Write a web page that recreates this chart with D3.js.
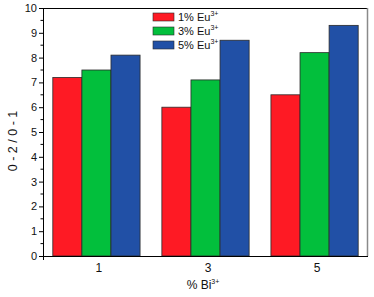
<!DOCTYPE html>
<html>
<head>
<meta charset="utf-8">
<script src="https://cdn.jsdelivr.net/npm/d3@7"></script>
<style>
  body { margin: 0; background: #fff; }
  text { font-family: "Liberation Sans", Arial, sans-serif; }
</style>
</head>
<body>
<div id="chart"></div>
<script>
// data
const groups = ["1", "3", "5"]
const series = ["1% Eu", "3% Eu", "5% Eu"]
const eu1 = [7.2, 6.0, 6.5]
const eu3 = [7.5, 7.1, 8.2]
const eu5 = [8.1, 8.7, 9.3]
const yTicks = [0, 1, 2, 3, 4, 5, 6, 7, 8, 9, 10]
const colors = ["#fe1a24", "#02bf3c", "#2150a6"]

const values = [eu1, eu3, eu5]

const width = 374, height = 297
const margin = { left: 43, right: 6, top: 8, bottom: 41 }
const w = width - margin.left - margin.right
const h = height - margin.top - margin.bottom

const svg = d3.select("#chart")
    .append("svg")
    .attr("width", width)
    .attr("height", height)

const view = svg.append("g")
    .attr("transform", "translate(" + margin.left + "," + margin.top + ")")

// scales
const x = d3.scaleBand()
    .domain(groups)
    .range([0, w])
    .paddingInner(0.2)
    .paddingOuter(0.09)

const xs = d3.scaleBand()
    .domain(series)
    .range([0, x.bandwidth()])

const y = d3.scaleLinear()
    .domain([0, 10])
    .range([h, 0])

// frame: top black, right gray
view.append("line")
    .attr("x1", 0).attr("x2", w)
    .attr("y1", 0.5).attr("y2", 0.5)
    .attr("stroke", "#000")
view.append("line")
    .attr("x1", w - 0.5).attr("x2", w - 0.5)
    .attr("y1", 0).attr("y2", h)
    .attr("stroke", "#8a8a8a")
    .attr("stroke-width", 1.5)

// bars
groups.forEach((g, gi) => {
    series.forEach((s, si) => {
        view.append("rect")
            .attr("x", x(g) + xs(s))
            .attr("y", y(values[si][gi]))
            .attr("width", xs.bandwidth())
            .attr("height", h - y(values[si][gi]))
            .attr("fill", colors[si])
            .attr("stroke", "#2a2a2a")
            .attr("stroke-width", 0.8)
    })
})

// y axis
const yAxis = d3.axisLeft(y)
    .tickValues(yTicks)
    .tickSize(4)
    .tickPadding(2)
const ya = view.append("g").call(yAxis)
ya.select(".domain").attr("d", "M0.5,0V" + (h + 4))
ya.selectAll("text").attr("font-size", 11).attr("font-family", "Liberation Sans, Arial, sans-serif").attr("fill", "#111")

// minor ticks
view.append("g")
    .selectAll("line")
    .data(yTicks.slice(0, -1).map(d => d + 0.5))
    .enter()
    .append("line")
    .attr("x1", -2.5).attr("x2", 0.5)
    .attr("y1", d => y(d)).attr("y2", d => y(d))
    .attr("stroke", "#000")

// x axis
view.append("line")
    .attr("x1", 0).attr("x2", w)
    .attr("y1", h + 0.5).attr("y2", h + 0.5)
    .attr("stroke", "#000")

view.append("g")
    .selectAll("text")
    .data(groups)
    .enter()
    .append("text")
    .attr("x", d => x(d) + x.bandwidth() / 2 + 2.5)
    .attr("y", h + 16)
    .attr("text-anchor", "middle")
    .attr("font-size", 12)
    .attr("fill", "#111")
    .text(d => d)

// axis titles
const xt = svg.append("text")
    .attr("x", 203)
    .attr("y", 289)
    .attr("text-anchor", "middle")
    .attr("font-size", 12)
    .attr("fill", "#111")
xt.append("tspan").text("% Bi")
xt.append("tspan").attr("font-size", 7).attr("dy", -5).text("3+")

svg.append("text")
    .attr("transform", "translate(16.5,141) rotate(-90)")
    .attr("text-anchor", "middle")
    .attr("font-size", 12.5)
    .attr("fill", "#111")
    .text("0 - 2 / 0 - 1")

// legend
const legend = svg.selectAll(".legend")
    .data(series)
    .enter()
    .append("g")
    .attr("class", "legend")
    .attr("transform", (d, i) => "translate(153," + (13 + i * 14) + ")")

legend.append("rect")
    .attr("width", 21)
    .attr("height", 8)
    .attr("fill", (d, i) => colors[i])
    .attr("stroke", "#2a2a2a")
    .attr("stroke-width", 0.6)

const lt = legend.append("text")
    .attr("x", 25)
    .attr("y", 8)
    .attr("font-size", 11)
    .attr("fill", "#111")
lt.append("tspan").text(d => d)
lt.append("tspan").attr("font-size", 7).attr("dy", -5).text("3+")
</script>
</body>
</html>
